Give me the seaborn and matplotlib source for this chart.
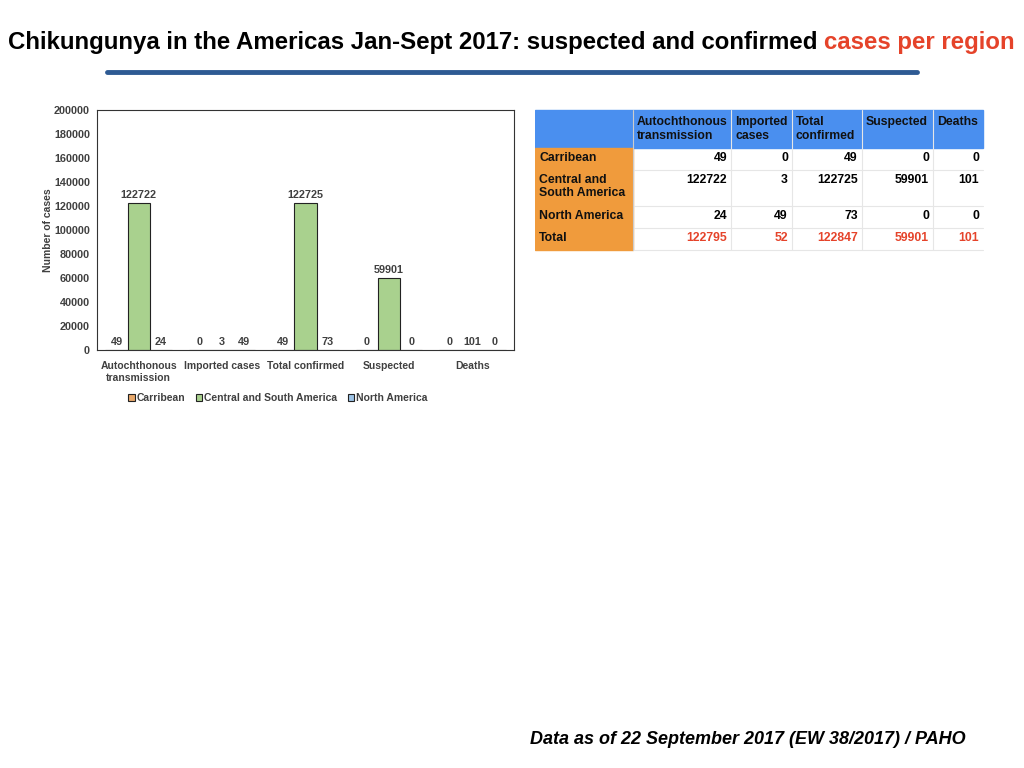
import matplotlib
matplotlib.use("Agg")
import matplotlib.pyplot as plt
import seaborn as sns
import pandas as pd
from matplotlib.patches import Rectangle

# data
measures = ["Autochthonous\ntransmission", "Imported cases", "Total confirmed", "Suspected", "Deaths"]
measure_heads = ["Autochthonous\ntransmission", "Imported\ncases", "Total\nconfirmed", "Suspected", "Deaths"]
regions = ["Carribean", "Central and South America", "North America"]
region_rows = ["Carribean", "Central and\nSouth America", "North America"]
carribean = [49, 0, 49, 0, 0]
central_south = [122722, 3, 122725, 59901, 101]
north_america = [24, 49, 73, 0, 0]
totals = [122795, 52, 122847, 59901, 101]

region_colors = ["#E8A86A", "#A9D18E", "#9DC3E6"]

rows = []
for reg, vals in zip(regions, [carribean, central_south, north_america]):
    for m, v in zip(measures, vals):
        rows.append({"measure": m, "region": reg, "cases": v})
df = pd.DataFrame(rows)

sns.set_style("white")
plt.rcParams["font.family"] = ["Liberation Sans", "DejaVu Sans"]
plt.rcParams["text.color"] = "black"

fig = plt.figure(figsize=(10.24, 7.68), dpi=100)

# title, two colours
t1 = fig.text(8 / 1024, 1 - 42 / 768, "Chikungunya in the Americas Jan-Sept 2017: suspected and confirmed ",
              fontsize=17.3, fontweight="bold", color="black", va="center", ha="left")
fig.canvas.draw()
bb = t1.get_window_extent()
fig.text(bb.x1 / 1024, 1 - 42 / 768, "cases per region", fontsize=17.3, fontweight="bold",
         color="#E5432A", va="center", ha="left")
fig.add_artist(plt.Line2D([107 / 1024, 917 / 1024], [1 - 72 / 768] * 2, color="#2E5A93", lw=3.5))

# bar chart
ax = fig.add_axes([97 / 1024, 1 - 350 / 768, 417 / 1024, 240 / 768])
sns.barplot(data=df, x="measure", y="cases", hue="region", palette=region_colors, saturation=1,
            edgecolor="#222222", linewidth=0.8, width=0.8, ax=ax, legend=True)
ax.set_ylim(0, 200000)
ax.set_yticks(range(0, 200001, 20000))
ax.set_xlabel("")
ax.set_ylabel("Number of cases", fontsize=7.5, color="#404040", fontweight="bold", labelpad=1)
ax.tick_params(axis="y", labelsize=7.8, colors="#404040", length=0, pad=5)
ax.tick_params(axis="x", labelsize=7.5, colors="#404040", length=0, pad=8)
for lab in ax.get_xticklabels() + ax.get_yticklabels():
    lab.set_fontweight("bold")
for sp in ax.spines.values():
    sp.set_visible(True)
    sp.set_color("#333333")
    sp.set_linewidth(0.8)
for cont in ax.containers:
    ax.bar_label(cont, fontsize=7.8, color="#404040", fontweight="bold", padding=2)

handles, labels = ax.get_legend_handles_labels()
ax.legend(handles, labels, loc="upper center", bbox_to_anchor=(0.434, -0.14), ncol=3, frameon=False,
          handlelength=0.6, handleheight=0.6, handletextpad=0.2, columnspacing=1.0,
          prop={"weight": "bold", "size": 7.5})
for txt in ax.get_legend().get_texts():
    txt.set_color("#404040")

# table
tx = fig.add_axes([535 / 1024, 1 - 252 / 768, 450 / 1024, 144 / 768])
tx.set_xlim(535, 985)
tx.set_ylim(252, 108)
tx.axis("off")
col_x = [535, 633, 731, 792, 862, 933, 983]
row_y = [110, 148, 170, 206, 228, 250]
tx.add_patch(Rectangle((535, 110), 448, 38, color="#4A8FEF"))
tx.add_patch(Rectangle((535, 148), 98, 102, color="#F09B3C"))
for i, h in enumerate(measure_heads):
    tx.text(col_x[i + 1] + 4, 116, h, fontsize=8.8, fontweight="bold", color="#111111",
            va="top", ha="left", linespacing=1.2)
body = [carribean, central_south, north_america]
for r, name in enumerate(region_rows + ["Total"]):
    y0 = row_y[r + 1]
    tx.text(539, y0 + 4, name, fontsize=8.8, fontweight="bold", color="#111111",
            va="top", ha="left", linespacing=1.15)
    vals = body[r] if r < 3 else totals
    col = "black" if r < 3 else "#E5432A"
    for c, v in enumerate(vals):
        tx.text(col_x[c + 2] - 4, y0 + 4, str(v), fontsize=8.8, fontweight="bold",
                color=col, va="top", ha="right")
for y in row_y[2:]:
    tx.plot([633, 983], [y, y], color="#E6E6E6", lw=0.8)
for x in col_x[1:-1]:
    tx.plot([x, x], [110, 250], color="#E6E6E6" if x > 633 else "#CCCCCC", lw=0.8)

fig.text(530 / 1024, 1 - 740 / 768, "Data as of 22 September 2017 (EW 38/2017) / PAHO",
         fontsize=13, fontweight="bold", style="italic", color="black", va="center", ha="left")

fig.savefig("out.png", dpi=100)
